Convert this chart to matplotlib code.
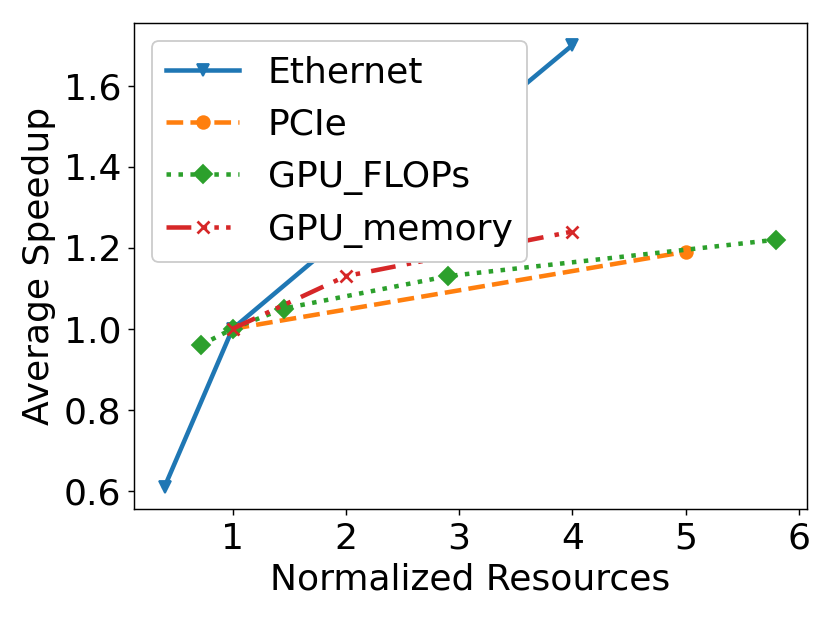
import matplotlib
matplotlib.use("Agg")
import matplotlib.pyplot as plt

# values
ethernet_x = [0.4, 1, 2, 4]
ethernet_y = [0.61, 1.0, 1.235, 1.70]

pcie_x = [1, 5]
pcie_y = [1.0, 1.19]

flops_x = [0.72, 1, 1.45, 2.9, 5.8]
flops_y = [0.96, 1.0, 1.05, 1.13, 1.22]

memory_x = [1, 2, 4]
memory_y = [1.0, 1.13, 1.24]

plt.rcParams['font.size'] = 20

fig = plt.figure(figsize=(830 / 130, 622 / 130), dpi=130)
ax = fig.add_axes([0.1614, 0.1817, 0.9723 - 0.1614, 0.963 - 0.1817])

lw = 2.5
ms = 7
ax.plot(ethernet_x, ethernet_y, color='#1f77b4', linestyle='-', marker='v',
        markersize=ms, linewidth=lw, label='Ethernet')
ax.plot(pcie_x, pcie_y, color='#ff7f0e', linestyle='--', marker='o',
        markersize=ms, linewidth=lw, label='PCIe')
ax.plot(flops_x, flops_y, color='#2ca02c', linestyle=':', marker='D',
        markersize=ms, linewidth=lw, label='GPU_FLOPs')
ax.plot(memory_x, memory_y, color='#d62728',
        linestyle=(0, (5.5, 2.5, 1, 1.6, 1, 1.6, 1, 2.5)),
        marker='x', markersize=ms, markeredgewidth=1.5, linewidth=lw,
        label='GPU_memory')

ax.set_xlabel("Normalized Resources")
ax.set_ylabel("Average Speedup")
ax.set_xticks([1, 2, 3, 4, 5, 6])
ax.set_yticks([0.6, 0.8, 1.0, 1.2, 1.4, 1.6])
ax.legend(loc='upper left', framealpha=1)

fig.savefig("out.png", dpi=130)
